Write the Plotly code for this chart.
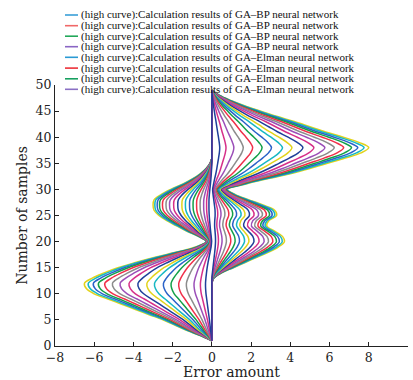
import plotly.graph_objects as go

# ---------------- data ----------------
sample_index = list(range(1, 50))

# outer curve of the family with the lower-left lobe (error at each sample)
bp_profile = [0.0, -0.6, -1.3, -1.9, -2.5, -3.2, -3.9, -4.6, -5.3, -6.0,
              -6.4, -6.5, -6.1, -5.5, -4.8, -3.9, -2.9, -1.8, -0.8, -0.3,
              -0.7, -1.3, -1.8, -2.3, -2.7, -2.95, -3.0, -2.95, -2.6, -2.1,
              -1.5, -1.0, -0.6, -0.3, -0.1, 0.0, 0.0, 0.0, 0.0, 0.0,
              0.0, 0.0, 0.0, 0.0, 0.0, 0.0, 0.0, 0.0, 0.0]

# outer curve of the family with the upper-right lobe
elman_profile = [0.0, 0.0, 0.0, 0.0, 0.0, 0.0, 0.0, 0.0, 0.0, 0.0,
                 0.0, 0.0, 0.1, 0.5, 1.1, 1.7, 2.3, 2.9, 3.4, 3.7,
                 3.6, 3.2, 2.8, 2.9, 3.3, 3.2, 2.6, 1.9, 1.2, 0.8,
                 1.7, 2.8, 4.0, 5.0, 5.9, 6.8, 7.6, 8.0, 7.5, 6.7,
                 5.8, 5.0, 4.2, 3.3, 2.5, 1.7, 1.0, 0.4, 0.0]

# relative size of each curve in the two families
bp_scale = [1.0, 0.97, 0.93, 0.89, 0.84, 0.78, 0.72, 0.65, 0.58, 0.51,
            0.45, 0.38, 0.32, 0.26, 0.2, 0.14, 0.09, 0.05]
elman_scale = [1.0, 0.97, 0.93, 0.89, 0.84, 0.78, 0.72, 0.65, 0.58, 0.51,
               0.45, 0.38, 0.32, 0.26, 0.2, 0.14, 0.09, 0.05]

curve_colors = ['#e2d31c', '#17b8c4', '#2a62c8', '#13a049', '#f0304a',
                '#8c8c8c', '#9b4fb8', '#d6308a', '#1f3f9a']

legend_labels = ["(high curve):Calculation results of GA–BP neural network"] * 4 + \
                ["(high curve):Calculation results of GA–Elman neural network"] * 4
legend_colors = ['#3a9fd8', '#f06868', '#22a85a', '#8a66c4',
                 '#2a9ad4', '#ec3038', '#18a060', '#8a70c4']

x_ticks = [-8, -6, -4, -2, 0, 2, 4, 6, 8, 10]
y_ticks = [0, 5, 10, 15, 20, 25, 30, 35, 40, 45, 50]

# ---------------- figure ----------------
W, H = 413, 380
L, R, T, B = 55, 5, 85, 34
pw, ph = W - L - R, H - T - B

fig = go.Figure()
k = 0
for prof, scales in ((bp_profile, bp_scale), (elman_profile, elman_scale)):
    for s in scales:
        fig.add_trace(go.Scatter(
            x=[v * s for v in prof], y=sample_index, mode='lines',
            line=dict(color=curve_colors[k % len(curve_colors)], width=1.5, shape='spline'),
            showlegend=False, hoverinfo='skip'))
        k += 1


def px2paper_x(px):
    return (px - L) / pw


def px2paper_y(py):
    return (H - B - py) / ph


row_y = [15, 25.7, 36.2, 46.7, 57.3, 68.1, 78.8, 89.3]
shapes, annotations = [], []
for lbl, col, py in zip(legend_labels, legend_colors, row_y):
    shapes.append(dict(type='line', xref='paper', yref='paper',
                       x0=px2paper_x(65), x1=px2paper_x(78),
                       y0=px2paper_y(py), y1=px2paper_y(py),
                       line=dict(color=col, width=1.6)))
    annotations.append(dict(text=lbl, xref='paper', yref='paper',
                            x=px2paper_x(79), y=px2paper_y(py),
                            xanchor='left', yanchor='middle', showarrow=False,
                            font=dict(family='Liberation Serif', size=11, color='#111')))

fig.update_layout(
    width=W, height=H, margin=dict(l=L, r=R, t=T, b=B),
    plot_bgcolor='white', paper_bgcolor='white',
    showlegend=False, shapes=shapes, annotations=annotations,
    font=dict(family='DejaVu Serif', color='#222'),
)
fig.update_xaxes(range=[-8, 10], tickvals=x_ticks, ticks='inside', ticklen=4,
                 tickcolor='#222', showline=True, linecolor='#222', linewidth=1.3,
                 showgrid=False, zeroline=False, tickfont=dict(size=12.5),
                 title=dict(text='Error amount', font=dict(size=14), standoff=1))
fig.update_yaxes(range=[0, 50], tickvals=y_ticks, ticks='inside', ticklen=4,
                 tickcolor='#222', showline=True, linecolor='#222', linewidth=1.3,
                 showgrid=False, zeroline=False, tickfont=dict(size=12.5),
                 title=dict(text='Number of samples', font=dict(size=14), standoff=4))

fig.write_html("out.html", config={'displayModeBar': False},
               post_script="document.body.style.margin='0';document.body.style.overflow='hidden';")
